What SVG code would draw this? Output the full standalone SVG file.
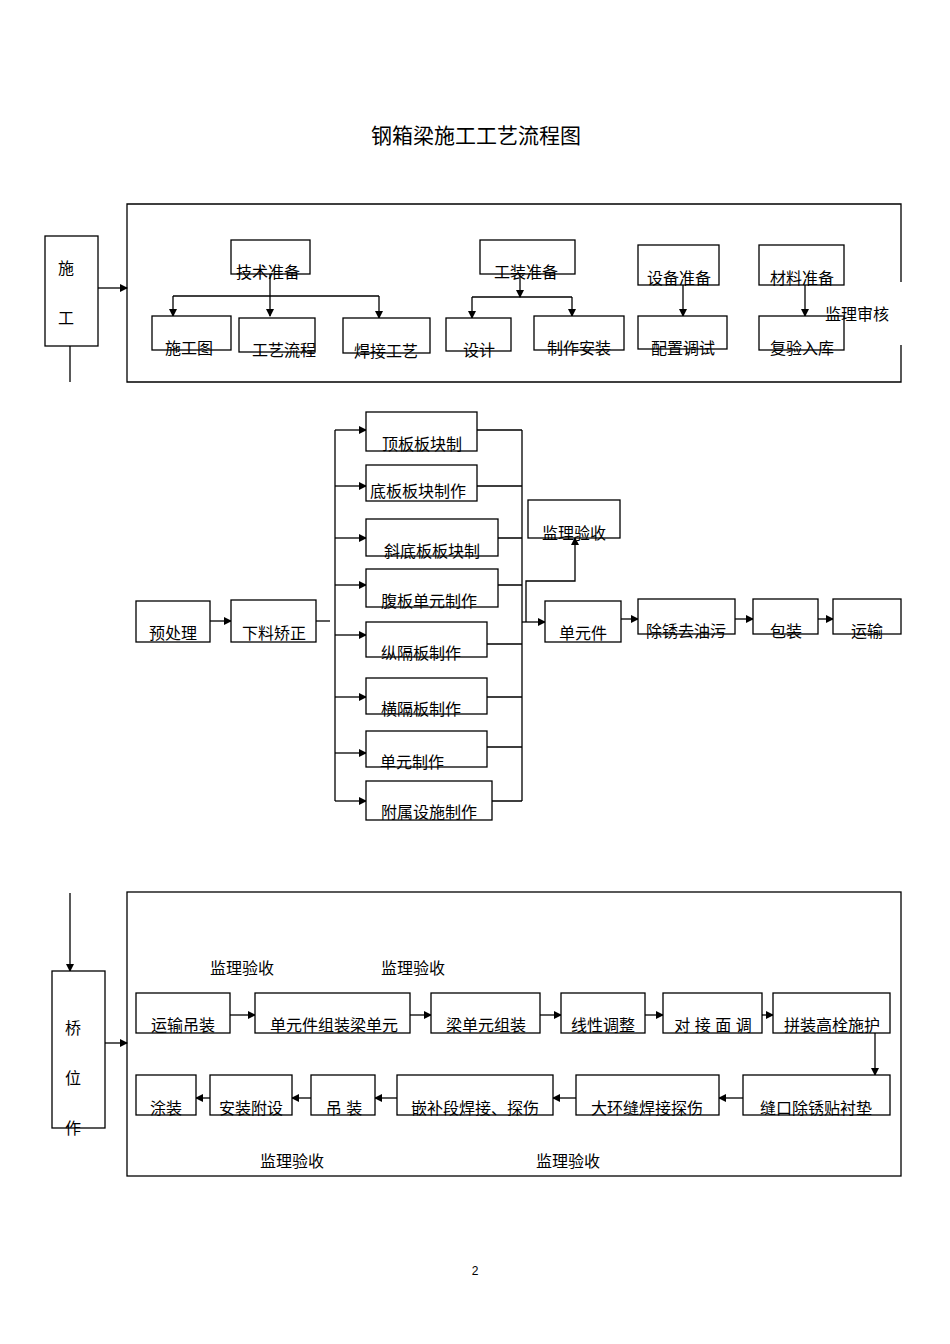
<svg xmlns="http://www.w3.org/2000/svg" width="950" height="1344" viewBox="0 0 950 1344">
<style>
text{font-family:"Liberation Sans","Noto Sans CJK SC",sans-serif;font-size:16px;fill:#000;text-anchor:middle}
.b{fill:#fff;stroke:#000;stroke-width:1.3}
.l{fill:none;stroke:#000;stroke-width:1.3}
</style>
<defs><marker id="a" markerWidth="8" markerHeight="8" refX="7" refY="4" orient="auto" markerUnits="userSpaceOnUse"><path d="M0,0L8,4L0,8z" fill="#000"/></marker></defs>
<rect width="950" height="1344" fill="#fff"/>
<text x="476" y="143" style="font-size:21px">钢箱梁施工工艺流程图</text>
<text x="475" y="1275" style="font-size:12px">2</text>
<g id="frames">
<path class="l" d="M901,282V204H127V382H901V345"/>
<rect class="l" x="127" y="892" width="774" height="284"/>
</g>
<g id="connectors">
<path class="l" marker-end="url(#a)" d="M98,288H127"/>
<path class="l" d="M70,346V382"/>
<path class="l" marker-end="url(#a)" d="M270,274V316"/>
<path class="l" d="M173,296H379"/>
<path class="l" marker-end="url(#a)" d="M173,296V316"/>
<path class="l" marker-end="url(#a)" d="M379,296V318"/>
<path class="l" marker-end="url(#a)" d="M520,274V297"/>
<path class="l" d="M472,297H572"/>
<path class="l" marker-end="url(#a)" d="M472,297V318"/>
<path class="l" marker-end="url(#a)" d="M572,297V316"/>
<path class="l" marker-end="url(#a)" d="M683,285V316"/>
<path class="l" marker-end="url(#a)" d="M805,285V316"/>
<path class="l" marker-end="url(#a)" d="M210,621H231"/>
<path class="l" d="M316,621H330"/>
<path class="l" d="M335,430V801"/>
<path class="l" marker-end="url(#a)" d="M335,430H366"/>
<path class="l" marker-end="url(#a)" d="M335,486H366"/>
<path class="l" marker-end="url(#a)" d="M335,538H366"/>
<path class="l" marker-end="url(#a)" d="M335,585H366"/>
<path class="l" marker-end="url(#a)" d="M335,635H366"/>
<path class="l" marker-end="url(#a)" d="M335,697H366"/>
<path class="l" marker-end="url(#a)" d="M335,753H366"/>
<path class="l" marker-end="url(#a)" d="M335,801H366"/>
<path class="l" d="M522,430V801M477,430H522M477,486H522M498,538H522M498,585H522M487,644H522M487,697H522M487,747H522M492,801H522"/>
<path class="l" marker-end="url(#a)" d="M522,622H545"/>
<path class="l" marker-end="url(#a)" d="M526,622V581H575V538"/>
<path class="l" marker-end="url(#a)" d="M621,619H638"/>
<path class="l" marker-end="url(#a)" d="M735,619H753"/>
<path class="l" marker-end="url(#a)" d="M818,619H833"/>
<path class="l" marker-end="url(#a)" d="M70,893V971"/>
<path class="l" marker-end="url(#a)" d="M105,1043H127"/>
<path class="l" marker-end="url(#a)" d="M230,1015H255"/>
<path class="l" marker-end="url(#a)" d="M410,1015H431"/>
<path class="l" marker-end="url(#a)" d="M540,1015H561"/>
<path class="l" marker-end="url(#a)" d="M645,1015H663"/>
<path class="l" marker-end="url(#a)" d="M762,1015H773"/>
<path class="l" marker-end="url(#a)" d="M875,1033V1075"/>
<path class="l" marker-end="url(#a)" d="M743,1098H719"/>
<path class="l" marker-end="url(#a)" d="M576,1098H553"/>
<path class="l" marker-end="url(#a)" d="M397,1098H375"/>
<path class="l" marker-end="url(#a)" d="M311,1098H292"/>
<path class="l" marker-end="url(#a)" d="M210,1098H196"/>
</g>
<g id="n-shigong"><rect class="b" x="45" y="236" width="53" height="110"/><text x="66" y="274">施</text><text x="66" y="324">工</text></g>
<g id="n-jishu"><rect class="b" x="231" y="240" width="79" height="34"/><text x="268" y="278">技术准备</text></g>
<g id="n-sgt"><rect class="b" x="152" y="316" width="79" height="34"/><text x="189" y="354">施工图</text></g>
<g id="n-gylc"><rect class="b" x="239" y="318" width="76" height="34"/><text x="284" y="356">工艺流程</text></g>
<g id="n-hjgy"><rect class="b" x="343" y="318" width="87" height="35"/><text x="386" y="357">焊接工艺</text></g>
<g id="n-gz"><rect class="b" x="480" y="240" width="95" height="34"/><text x="526" y="278">工装准备</text></g>
<g id="n-sj"><rect class="b" x="446" y="318" width="65" height="33"/><text x="479" y="356">设计</text></g>
<g id="n-zzaz"><rect class="b" x="534" y="316" width="90" height="34"/><text x="579" y="354">制作安装</text></g>
<g id="n-sb"><rect class="b" x="638" y="245" width="81" height="40"/><text x="679" y="284">设备准备</text></g>
<g id="n-pz"><rect class="b" x="638" y="316" width="89" height="33"/><text x="683" y="354">配置调试</text></g>
<g id="n-cl"><rect class="b" x="759" y="245" width="85" height="40"/><text x="802" y="284">材料准备</text></g>
<g id="n-fy"><rect class="b" x="759" y="316" width="85" height="34"/><text x="802" y="354">复验入库</text></g>
<text x="857" y="320">监理审核</text>
<g id="n-ycl"><rect class="b" x="136" y="601" width="74" height="41"/><text x="173" y="639">预处理</text></g>
<g id="n-xl"><rect class="b" x="231" y="600" width="85" height="42"/><text x="274" y="639">下料矫正</text></g>
<g id="n-1"><rect class="b" x="366" y="412" width="111" height="39"/><text x="422" y="450">顶板板块制</text></g>
<g id="n-2"><rect class="b" x="366" y="465" width="111" height="36"/><text x="418" y="497">底板板块制作</text></g>
<g id="n-3"><rect class="b" x="366" y="519" width="132" height="37"/><text x="432" y="557">斜底板板块制</text></g>
<g id="n-4"><rect class="b" x="366" y="569" width="132" height="38"/><text x="429" y="607">腹板单元制作</text></g>
<g id="n-5"><rect class="b" x="366" y="622" width="121" height="35"/><text x="421" y="659">纵隔板制作</text></g>
<g id="n-6"><rect class="b" x="366" y="678" width="121" height="36"/><text x="421" y="715">横隔板制作</text></g>
<g id="n-7"><rect class="b" x="366" y="731" width="121" height="36"/><text x="412" y="768">单元制作</text></g>
<g id="n-8"><rect class="b" x="366" y="781" width="126" height="39"/><text x="429" y="818">附属设施制作</text></g>
<g id="n-jlys1"><rect class="b" x="528" y="500" width="92" height="38"/><text x="574" y="539">监理验收</text></g>
<g id="n-dyj"><rect class="b" x="545" y="601" width="76" height="41"/><text x="583" y="639">单元件</text></g>
<g id="n-cx"><rect class="b" x="638" y="599" width="97" height="35"/><text x="686" y="637">除锈去油污</text></g>
<g id="n-bz"><rect class="b" x="753" y="599" width="65" height="35"/><text x="786" y="637">包装</text></g>
<g id="n-ys"><rect class="b" x="833" y="599" width="68" height="35"/><text x="867" y="637">运输</text></g>
<g id="n-qw"><rect class="b" x="52" y="971" width="53" height="157"/><text x="73" y="1034">桥</text><text x="73" y="1084">位</text><text x="73" y="1134">作</text></g>
<g id="n-r1"><rect class="b" x="136" y="993" width="94" height="40"/><text x="183" y="1031">运输吊装</text></g>
<g id="n-r2"><rect class="b" x="255" y="993" width="155" height="40"/><text x="334" y="1031">单元件组装梁单元</text></g>
<g id="n-r3"><rect class="b" x="431" y="993" width="109" height="40"/><text x="486" y="1031">梁单元组装</text></g>
<g id="n-r4"><rect class="b" x="561" y="993" width="84" height="40"/><text x="603" y="1031">线性调整</text></g>
<g id="n-r5"><rect class="b" x="663" y="993" width="99" height="40"/><text x="713" y="1031">对 接 面 调</text></g>
<g id="n-r6"><rect class="b" x="773" y="993" width="117" height="40"/><text x="832" y="1031">拼装高栓施护</text></g>
<g id="n-s1"><rect class="b" x="743" y="1075" width="147" height="40"/><text x="816" y="1114">缝口除锈贴衬垫</text></g>
<g id="n-s2"><rect class="b" x="576" y="1075" width="143" height="40"/><text x="647" y="1114">大环缝焊接探伤</text></g>
<g id="n-s3"><rect class="b" x="397" y="1075" width="156" height="40"/><text x="475" y="1114">嵌补段焊接、探伤</text></g>
<g id="n-s4"><rect class="b" x="311" y="1075" width="64" height="40"/><text x="344" y="1114">吊  装</text></g>
<g id="n-s5"><rect class="b" x="210" y="1075" width="82" height="40"/><text x="251" y="1114">安装附设</text></g>
<g id="n-s6"><rect class="b" x="136" y="1075" width="60" height="40"/><text x="166" y="1114">涂装</text></g>
<text x="242" y="974">监理验收</text>
<text x="413" y="974">监理验收</text>
<text x="292" y="1167">监理验收</text>
<text x="568" y="1167">监理验收</text>
</svg>
